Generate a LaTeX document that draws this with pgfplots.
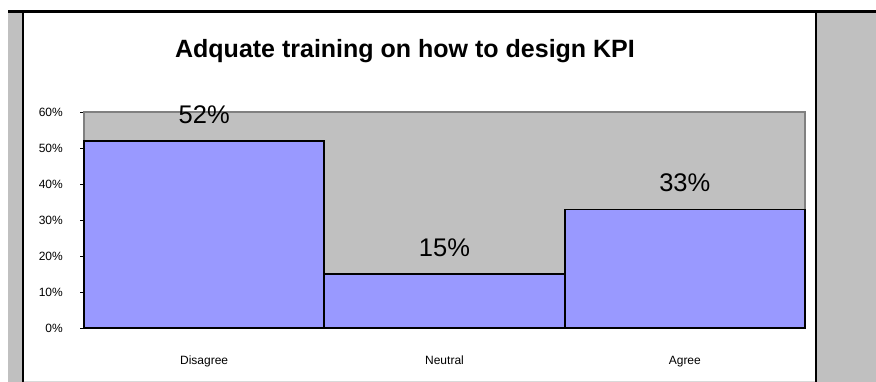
\documentclass[border=0pt]{standalone}
\usepackage{fontspec}
\setmainfont{Liberation Sans}
\usepackage{pgfplots}
\pgfplotsset{compat=1.18}
\definecolor{chartgray}{HTML}{C0C0C0}
\definecolor{plotborder}{HTML}{808080}
\definecolor{barblue}{HTML}{9999FF}
\begin{document}
\begin{tikzpicture}[x=1pt,y=1pt]
\useasboundingbox (0,0) rectangle (876,382);
\fill[white] (0,0) rectangle (876,382);
\fill[chartgray] (8,0) rectangle (22,372);
\fill[chartgray] (816,0) rectangle (876,372);
\fill[black] (8,369) rectangle (876,372);
\fill[black] (21.5,0) rectangle (23.5,369);
\fill[black] (815,0) rectangle (817,369);
\draw[line width=1pt, black!15] (23.5,0.5) -- (815,0.5);
\node[font=\fontsize{25}{30}\selectfont\bfseries, anchor=base, inner sep=0pt] at (405,324) {Adquate training on how to design KPI};
\begin{axis}[
  at={(84pt,53.7pt)}, anchor=south west,
  scale only axis, width=721pt, height=216pt,
  xmin=-0.5, xmax=2.5, ymin=0, ymax=60,
  ybar, bar width=1,
  axis background/.style={fill=chartgray},
  axis line style={draw=plotborder, line width=1.8pt},
  xtick=data, xticklabels={Disagree,Neutral,Agree},
  xtick style={draw=none},
  xticklabel style={font=\fontsize{12}{14}\selectfont, anchor=base, inner sep=0pt, yshift=-32.5pt},
  ytick={0,10,20,30,40,50,60},
  yticklabels={0\%,10\%,20\%,30\%,40\%,50\%,60\%},
  yticklabel style={font=\fontsize{12}{14}\selectfont, anchor=east, inner sep=0pt, xshift=-17pt},
  ytick pos=left, tick align=outside, major tick length=4pt,
  ytick style={draw=black, line width=0.8pt},
  point meta=explicit symbolic,
  nodes near coords,
  nodes near coords style={font=\fontsize{25.5}{30}\selectfont, anchor=base, inner sep=0pt, yshift=17.5pt, text=black},
  clip=false,
]
\addplot[fill=barblue, draw=black, line width=1.8pt] coordinates {(0,52)[52\%] (1,15)[15\%] (2,33)[33\%]};
\end{axis}
\end{tikzpicture}
\end{document}
